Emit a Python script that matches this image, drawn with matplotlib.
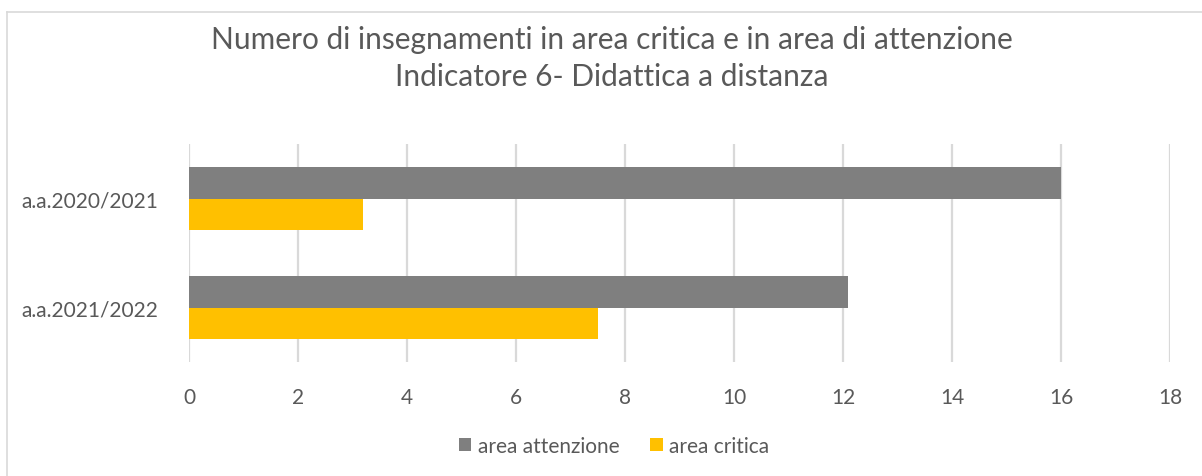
import numpy as np
import matplotlib.pyplot as plt
from matplotlib.lines import Line2D

# ──────────── Dati ────────────
categorie = ["a.a.2021/2022", "a.a.2020/2021"]
area_attenzione = [12.1, 16]
area_critica = [7.5, 3.2]
x_ticks = [0, 2, 4, 6, 8, 10, 12, 14, 16, 18]

grigio = "#7f7f7f"
giallo = "#ffc000"
testo = "#595959"

plt.rcParams["font.family"] = ["Lato", "DejaVu Sans"]

W, H = 1202, 477
fig = plt.figure(figsize=(W / 100, H / 100), dpi=100)
ax = fig.add_axes([189 / W, 1 - 363 / H, (1170 - 189) / W, (363 - 145) / H])

y = np.arange(len(categorie))
h = 0.285
ax.barh(y + h / 2, area_attenzione, height=h, color=grigio, label="area attenzione", zorder=3)
ax.barh(y - h / 2, area_critica, height=h, color=giallo, label="area critica", zorder=3)

ax.set_xlim(0, 18)
ax.set_ylim(-0.5, 1.5)
ax.set_xticks(x_ticks)
ax.set_yticks(y)
ax.set_yticklabels(categorie)
ax.tick_params(length=0, labelsize=15, colors=testo)
ax.tick_params(axis="x", pad=18)
ax.tick_params(axis="y", pad=22)
ax.grid(axis="x", color="#d9d9d9", linewidth=1.6, zorder=0)
for s in ax.spines.values():
    s.set_visible(False)

fig.text(612 / W, 1 - 40 / H, "Numero di insegnamenti in area critica e in area di attenzione",
         ha="center", va="center", fontsize=21.5, color=testo)
fig.text(612 / W, 1 - 77 / H, "Indicatore 6- Didattica a distanza",
         ha="center", va="center", fontsize=21.5, color=testo)

fig.legend(loc="center", bbox_to_anchor=(614 / W, 1 - 447 / H), ncol=2, frameon=False,
           fontsize=15, labelcolor=testo, handlelength=0.6, handleheight=0.6,
           handletextpad=0.3, columnspacing=1.5)

# cornice
fig.add_artist(Line2D([7 / W, 7 / W], [0, 1 - 13 / H], color="#d9d9d9", linewidth=1.2))
fig.add_artist(Line2D([7 / W, 1], [1 - 13 / H, 1 - 13 / H], color="#d9d9d9", linewidth=1.2))

fig.savefig("out.png", dpi=100)
